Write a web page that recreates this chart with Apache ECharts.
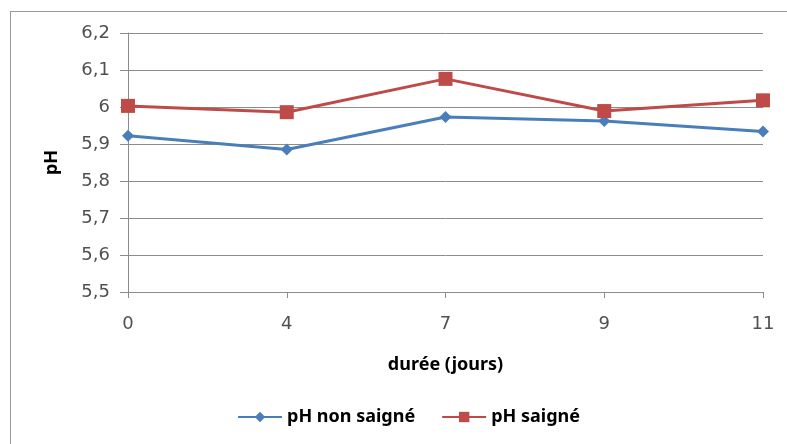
<!DOCTYPE html>
<html>
<head>
<meta charset="utf-8">
<script src="https://cdn.jsdelivr.net/npm/echarts@6/dist/echarts.min.js"></script>
<style>
  html, body { margin: 0; padding: 0; background: #fff; }
  #frame { position: absolute; left: 10px; top: 11px; width: 800px; height: 450px; border: 1px solid #9a9a9a; box-sizing: border-box; }
  #chart { position: absolute; left: 0; top: 0; width: 787px; height: 444px; }
</style>
</head>
<body>
<div id="frame"></div>
<div id="chart"></div>
<script>
// Durée de conservation (jours) et pH mesurés
const days = ['0', '4', '7', '9', '11'];
const phNonSaigne = [5.922, 5.885, 5.973, 5.962, 5.934];
const phSaigne = [6.003, 5.986, 6.076, 5.989, 6.018];
const yTicks = { min: 5.5, max: 6.2, step: 0.1 };

const tickFont = 'DejaVu Sans, sans-serif';
const boldFont = 'Noto Sans, DejaVu Sans, sans-serif';
const chart = echarts.init(document.getElementById('chart'), null, { renderer: 'canvas' });

chart.setOption({
  backgroundColor: 'transparent',
  animation: false,
  grid: { left: 128, right: 24, top: 33, bottom: 152, containLabel: false },
  xAxis: {
    type: 'category',
    data: days,
    boundaryGap: false,
    name: 'durée (jours)',
    nameLocation: 'middle',
    nameGap: 64,
    nameTextStyle: { fontFamily: boldFont, fontWeight: 'bold', fontSize: 18, color: '#000' },
    axisLine: { lineStyle: { color: '#8c8c8c', width: 1 } },
    axisTick: { show: true, alignWithLabel: true, length: 6, lineStyle: { color: '#8c8c8c' } },
    axisLabel: { fontFamily: tickFont, fontSize: 18, color: '#505050', margin: 23 },
    splitLine: { show: false }
  },
  yAxis: {
    type: 'value',
    min: yTicks.min,
    max: yTicks.max,
    interval: yTicks.step,
    name: 'pH',
    nameLocation: 'middle',
    nameGap: 67,
    nameRotate: 90,
    nameTextStyle: { fontFamily: boldFont, fontWeight: 'bold', fontSize: 18, color: '#000' },
    axisLine: { show: true, lineStyle: { color: '#8c8c8c', width: 1 } },
    axisTick: { show: true, length: 8, lineStyle: { color: '#8c8c8c' } },
    axisLabel: {
      fontFamily: tickFont, fontSize: 18, color: '#505050', margin: 18,
      formatter: v => String(Math.round(v * 10) / 10).replace('.', ',')
    },
    splitLine: { show: true, lineStyle: { color: '#8c8c8c', width: 1 } }
  },
  legend: {
    bottom: 13,
    left: 232,
    itemGap: 26,
    itemWidth: 44,
    itemHeight: 13,
    textStyle: { fontFamily: boldFont, fontWeight: 'bold', fontSize: 18, color: '#000' },
    data: ['pH non saigné', 'pH saigné']
  },
  series: [
    {
      name: 'pH non saigné',
      type: 'line',
      data: phNonSaigne,
      symbol: 'diamond',
      symbolSize: 12,
      lineStyle: { color: '#4a7ebb', width: 3 },
      itemStyle: { color: '#4a7ebb' }
    },
    {
      name: 'pH saigné',
      type: 'line',
      data: phSaigne,
      symbol: 'rect',
      symbolSize: 14,
      lineStyle: { color: '#be4b48', width: 3 },
      itemStyle: { color: '#be4b48' }
    }
  ]
});
</script>
</body>
</html>
